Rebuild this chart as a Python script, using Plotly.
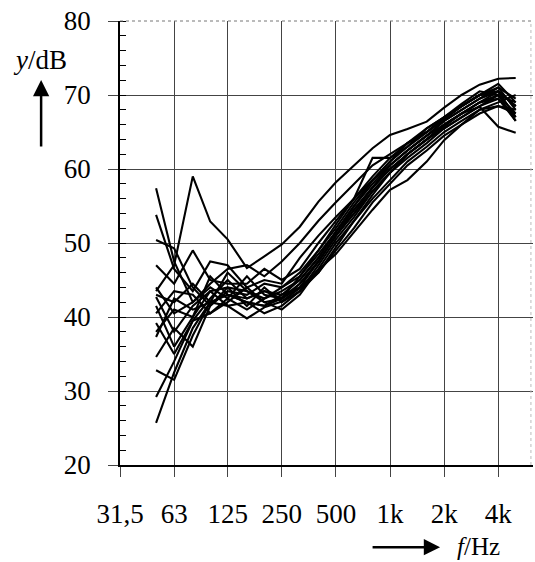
import plotly.graph_objects as go

freqs = [50, 63, 80, 100, 125, 160, 200, 250, 315, 400, 500, 630, 800, 1000,
         1250, 1600, 2000, 2500, 3150, 4000, 5000]

series = [
    [43.5, 47.0, 59.0, 52.9, 50.5, 46.6, 48.2, 49.8, 52.2, 55.6, 58.2, 60.5, 62.8, 64.6, 65.4, 66.4, 68.3, 70.0, 71.4, 72.2, 72.3],
    [57.4, 47.5, 42.0, 44.5, 46.5, 47.0, 45.5, 47.5, 50.0, 53.0, 55.5, 58.0, 60.5, 62.0, 63.5, 65.0, 66.8, 68.5, 70.0, 71.5, 69.0],
    [53.8, 46.5, 43.5, 47.5, 47.0, 44.0, 45.0, 44.5, 48.0, 51.0, 53.5, 56.0, 58.5, 60.5, 62.5, 64.5, 66.5, 68.0, 69.5, 70.5, 68.5],
    [50.4, 49.3, 44.0, 41.5, 43.5, 43.0, 44.5, 44.0, 45.5, 48.5, 51.5, 54.5, 57.5, 60.0, 62.0, 64.0, 66.0, 67.5, 69.0, 70.0, 67.5],
    [47.0, 44.5, 49.0, 45.0, 44.5, 44.5, 46.5, 45.0, 46.5, 50.0, 53.0, 56.0, 61.5, 61.5, 63.0, 65.0, 66.8, 68.5, 70.0, 71.0, 68.0],
    [44.0, 40.5, 42.0, 44.0, 42.5, 45.5, 43.0, 42.5, 44.5, 47.5, 51.0, 54.0, 57.0, 59.5, 61.5, 63.5, 65.5, 67.0, 68.5, 70.0, 69.0],
    [43.0, 42.0, 44.5, 42.0, 46.0, 43.5, 42.5, 43.5, 45.0, 48.0, 51.5, 55.0, 58.5, 61.0, 63.0, 65.5, 67.0, 68.5, 70.0, 70.5, 67.0],
    [42.7, 38.0, 41.5, 43.5, 44.0, 41.5, 44.0, 42.0, 43.5, 47.0, 50.5, 53.5, 57.0, 59.5, 62.0, 64.0, 65.5, 67.0, 68.5, 69.5, 66.5],
    [41.5, 36.0, 40.0, 45.5, 43.0, 42.0, 41.5, 43.0, 44.0, 47.5, 51.0, 54.5, 57.5, 60.5, 62.5, 64.5, 66.0, 67.5, 69.0, 70.5, 68.5],
    [40.5, 43.5, 43.0, 40.5, 42.0, 44.0, 42.0, 41.0, 43.0, 46.5, 50.0, 53.0, 56.0, 58.5, 61.0, 63.0, 65.0, 66.5, 68.0, 69.0, 70.0],
    [39.2, 35.0, 39.5, 42.5, 45.0, 42.5, 43.5, 42.5, 44.0, 46.0, 49.0, 52.0, 55.5, 58.0, 60.5, 62.5, 64.5, 66.0, 67.5, 68.5, 68.0],
    [38.0, 41.0, 40.0, 43.5, 41.5, 39.8, 41.3, 42.1, 43.9, 46.4, 48.5, 51.5, 54.5, 57.2, 58.5, 61.0, 63.9, 66.0, 68.0, 68.5, 67.5],
    [37.3, 42.5, 41.0, 42.0, 43.0, 42.0, 40.5, 41.5, 43.5, 46.0, 49.5, 53.0, 56.5, 59.5, 62.0, 64.0, 65.8, 67.5, 68.4, 65.7, 64.9],
    [34.6, 38.5, 36.0, 41.5, 44.0, 43.5, 42.0, 42.5, 45.5, 49.0, 52.5, 56.0, 59.0, 61.5, 63.5, 65.5, 67.0, 68.8, 70.5, 70.0, 66.5],
    [32.8, 31.5, 37.5, 42.0, 43.0, 42.5, 43.5, 43.0, 45.0, 48.0, 51.5, 55.0, 58.0, 60.5, 62.5, 64.5, 66.5, 68.0, 69.5, 71.0, 69.5],
    [29.2, 34.0, 39.5, 40.5, 42.5, 41.0, 42.5, 44.0, 46.0, 49.0, 52.0, 55.5, 58.5, 61.0, 63.5, 65.0, 67.0, 68.5, 70.0, 70.5, 68.5],
    [25.7, 32.5, 38.5, 42.0, 41.5, 42.0, 41.5, 42.5, 44.5, 47.5, 51.0, 54.0, 57.5, 60.0, 62.0, 64.0, 66.0, 67.5, 69.0, 69.5, 67.0],
]

x_tickvals = [31.5, 63, 125, 250, 500, 1000, 2000, 4000]
x_ticktext = ["31,5", "63", "125", "250", "500", "1k", "2k", "4k"]
y_tickvals = [20, 30, 40, 50, 60, 70, 80]

FONT = "Times New Roman, Liberation Serif, DejaVu Serif, serif"

fig = go.Figure()
for s in series:
    fig.add_trace(go.Scatter(x=freqs, y=s, mode="lines",
                             line=dict(color="black", width=2.1),
                             showlegend=False, hoverinfo="skip"))

fig.update_layout(
    width=535, height=562,
    margin=dict(l=120, r=2, t=21, b=97),
    paper_bgcolor="white", plot_bgcolor="white",
    font=dict(family=FONT, size=27, color="black"),
    xaxis=dict(type="log", range=[1.4983, 3.7952],
               tickvals=x_tickvals, ticktext=x_ticktext,
               showgrid=True, gridcolor="#444", gridwidth=1,
               showline=True, linecolor="black", linewidth=1.5,
               ticks="outside", ticklen=10, tickcolor="#444", tickwidth=1,
               ticklabelstandoff=14, zeroline=False,
               tickfont=dict(family=FONT, size=27)),
    yaxis=dict(range=[20, 80], tickvals=y_tickvals,
               showgrid=True, gridcolor="#444", gridwidth=1,
               showline=True, linecolor="black", linewidth=1.5,
               ticks="outside", ticklen=10, tickcolor="#444", tickwidth=1,
               ticklabelstandoff=12, zeroline=False,
               tickfont=dict(family=FONT, size=27),
               minor=dict(dtick=2, ticks="inside", ticklen=6,
                          tickcolor="black", tickwidth=1, showgrid=False)),
)

# top and right frame (dotted)
fig.add_shape(type="line", xref="paper", yref="paper", x0=0, x1=1, y0=1, y1=1,
              line=dict(color="#777", width=1, dash="dot"))
fig.add_shape(type="line", xref="paper", yref="paper", x0=0.995, x1=0.995, y0=0, y1=1,
              line=dict(color="#bbb", width=1, dash="dot"))

# axis titles with arrows
fig.add_annotation(xref="paper", yref="paper", x=-0.194, y=0.912,
                   xanchor="center", yanchor="middle",
                   text="<i>y</i>/dB", showarrow=False,
                   font=dict(family=FONT, size=27))
fig.add_annotation(xref="paper", yref="paper", x=-0.191, y=0.867,
                   text="", showarrow=True, ax=0, ay=68,
                   arrowhead=2, arrowsize=1.3, arrowwidth=2.5, arrowcolor="black")
fig.add_annotation(xref="paper", yref="paper", x=0.869, y=-0.183,
                   xanchor="center", yanchor="middle",
                   text="<i>f</i>/Hz", showarrow=False,
                   font=dict(family=FONT, size=25))
fig.add_annotation(xref="paper", yref="paper", x=0.775, y=-0.185,
                   text="", showarrow=True, ax=-69, ay=0,
                   arrowhead=2, arrowsize=1.3, arrowwidth=2.5, arrowcolor="black")

fig.write_html("out.html")
